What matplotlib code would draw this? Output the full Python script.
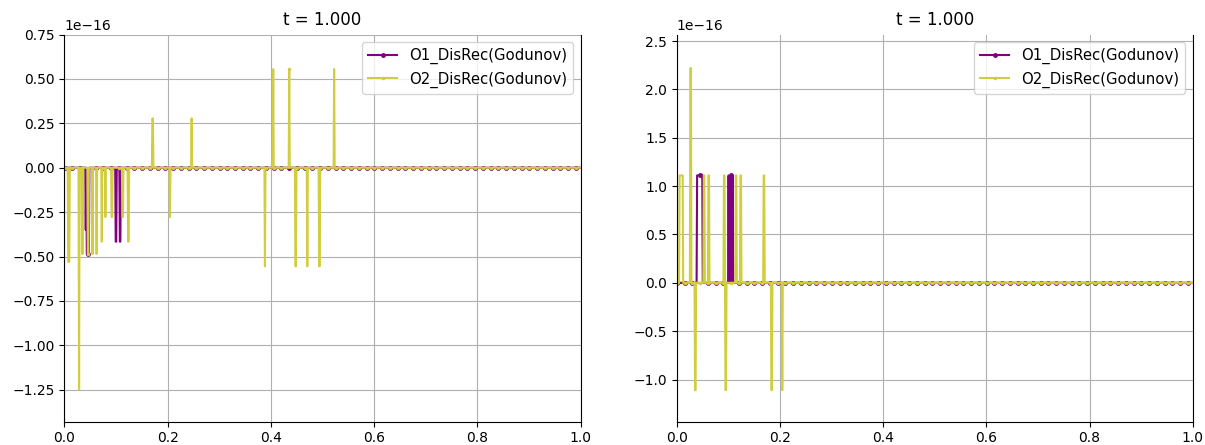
import numpy as np
import matplotlib
matplotlib.use("Agg")
import matplotlib.pyplot as plt

# Grid of cell centres on [0, 1]
n_cells = 1000
x = (np.arange(n_cells) + 0.5) / n_cells

title = "t = 1.000"
labels = ["O1_DisRec(Godunov)", "O2_DisRec(Godunov)"]
colors = ["purple", "#d0cd3e"]
scale = 1e-16

# Error spikes, (x_start, x_end, value in units of 1e-16); zero elsewhere
left_o1 = [
    (0.0416, 0.0416, -0.35),
    (0.0440, 0.0470, -0.4857),
    (0.1000, 0.1000, -0.4163),
    (0.1080, 0.1080, -0.4163),
]
left_o2 = [
    (0.0080, 0.0095, -0.53),
    (0.0285, 0.0285, -1.249),
    (0.0350, 0.0350, -0.4857),
    (0.0460, 0.0460, -0.4857),
    (0.0543, 0.0543, -0.4857),
    (0.0622, 0.0622, -0.4857),
    (0.0726, 0.0726, -0.4163),
    (0.0791, 0.0791, -0.2776),
    (0.0920, 0.0920, -0.2776),
    (0.1130, 0.1130, -0.2776),
    (0.1240, 0.1240, -0.4163),
    (0.1710, 0.1710, 0.2776),
    (0.2047, 0.2047, -0.2776),
    (0.2466, 0.2466, 0.2776),
    (0.3887, 0.3887, -0.5551),
    (0.4048, 0.4048, 0.5551),
    (0.4358, 0.4358, 0.5551),
    (0.4480, 0.4480, -0.5551),
    (0.4706, 0.4706, -0.5551),
    (0.4940, 0.4940, -0.5551),
    (0.5226, 0.5226, 0.5551),
]
right_o1 = [
    (0.0400, 0.0490, 1.1102),
    (0.1005, 0.1005, 1.1102),
    (0.1050, 0.1050, 1.1102),
    (0.1085, 0.1085, 1.1102),
]
right_o2 = [
    (0.0060, 0.0110, 1.1102),
    (0.0270, 0.0270, 2.2204),
    (0.0360, 0.0360, -1.1102),
    (0.0530, 0.0530, 1.1102),
    (0.0620, 0.0620, 1.1102),
    (0.0920, 0.0920, 1.1102),
    (0.0950, 0.0950, -1.1102),
    (0.1150, 0.1150, 1.1102),
    (0.1240, 0.1240, 1.1102),
    (0.1690, 0.1690, 1.1102),
    (0.1840, 0.1840, -1.1102),
    (0.2047, 0.2047, -1.1102),
]

left_ylim = (-1.43, 0.75)
right_ylim = (-1.436, 2.567)


def build(spikes):
    y = np.zeros(n_cells)
    for x0, x1, v in spikes:
        mask = (x >= x0 - 0.5 / n_cells) & (x <= x1 + 0.5 / n_cells)
        if not mask.any():
            mask[np.argmin(np.abs(x - x0))] = True
        y[mask] = v
    return y * scale


fig = plt.figure(figsize=(12.05, 4.45), dpi=100)
ax_l = fig.add_axes([0.0534, 0.0524, 0.4285, 0.870])
ax_r = fig.add_axes([0.5616, 0.0524, 0.4282, 0.870])

for ax, s1, s2, ylim in [(ax_l, left_o1, left_o2, left_ylim),
                         (ax_r, right_o1, right_o2, right_ylim)]:
    ax.plot(x, build(s1), color=colors[0], marker=".", markersize=5,
            markevery=15, lw=1.5, label=labels[0])
    ax.plot(x, build(s2), color=colors[1], marker=".", markersize=3,
            markevery=15, lw=1.5, label=labels[1])
    ax.set_xlim(0, 1)
    ax.set_ylim(ylim[0] * scale, ylim[1] * scale)
    ax.grid(True)
    ax.spines["top"].set_visible(False)
    ax.set_title(title, pad=7)
    ax.legend(loc="upper right", fontsize=10.7)

fig.savefig("out.png", dpi=100)
